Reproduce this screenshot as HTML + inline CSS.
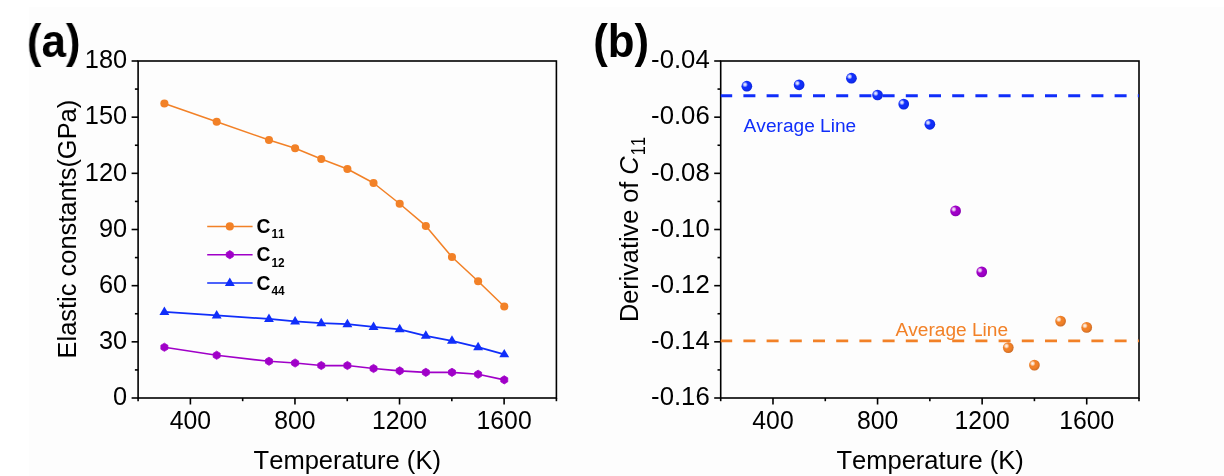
<!DOCTYPE html>
<html><head><meta charset="utf-8"><title>figure</title>
<style>
html,body{margin:0;padding:0;background:#fff;overflow:hidden}
svg{display:block;font-family:"Liberation Sans",sans-serif;will-change:transform;font-kerning:none}
</style></head><body>
<svg width="1224" height="476" viewBox="0 0 1224 476">
<rect x="29" y="7" width="1195" height="469" fill="#FDFDFD"/>
<polyline points="164.39,103.45 216.68,121.75 268.97,140.00 295.11,148.25 321.26,159.00 347.40,169.00 373.54,183.00 399.69,203.75 425.83,225.95 451.97,257.05 478.12,281.25 504.26,306.55" fill="none" stroke="#F28127" stroke-width="1.55" stroke-linejoin="round"/>
<circle cx="164.39" cy="103.45" r="4.05" fill="#F28127"/>
<circle cx="216.68" cy="121.75" r="4.05" fill="#F28127"/>
<circle cx="268.97" cy="140.00" r="4.05" fill="#F28127"/>
<circle cx="295.11" cy="148.25" r="4.05" fill="#F28127"/>
<circle cx="321.26" cy="159.00" r="4.05" fill="#F28127"/>
<circle cx="347.40" cy="169.00" r="4.05" fill="#F28127"/>
<circle cx="373.54" cy="183.00" r="4.05" fill="#F28127"/>
<circle cx="399.69" cy="203.75" r="4.05" fill="#F28127"/>
<circle cx="425.83" cy="225.95" r="4.05" fill="#F28127"/>
<circle cx="451.97" cy="257.05" r="4.05" fill="#F28127"/>
<circle cx="478.12" cy="281.25" r="4.05" fill="#F28127"/>
<circle cx="504.26" cy="306.55" r="4.05" fill="#F28127"/>
<polyline points="164.39,347.25 216.68,355.25 268.97,361.25 295.11,363.00 321.26,365.50 347.40,365.50 373.54,368.50 399.69,370.85 425.83,372.35 451.97,372.35 478.12,374.25 504.26,379.85" fill="none" stroke="#A000C8" stroke-width="1.75" stroke-linejoin="round"/>
<polygon points="164.39,343.15 167.89,345.25 167.89,349.25 164.39,351.35 160.89,349.25 160.89,345.25" fill="#A000C8" stroke="#A000C8" stroke-width="0.8" stroke-linejoin="round"/>
<polygon points="216.68,351.15 220.18,353.25 220.18,357.25 216.68,359.35 213.18,357.25 213.18,353.25" fill="#A000C8" stroke="#A000C8" stroke-width="0.8" stroke-linejoin="round"/>
<polygon points="268.97,357.15 272.47,359.25 272.47,363.25 268.97,365.35 265.47,363.25 265.47,359.25" fill="#A000C8" stroke="#A000C8" stroke-width="0.8" stroke-linejoin="round"/>
<polygon points="295.11,358.90 298.61,361.00 298.61,365.00 295.11,367.10 291.61,365.00 291.61,361.00" fill="#A000C8" stroke="#A000C8" stroke-width="0.8" stroke-linejoin="round"/>
<polygon points="321.26,361.40 324.76,363.50 324.76,367.50 321.26,369.60 317.76,367.50 317.76,363.50" fill="#A000C8" stroke="#A000C8" stroke-width="0.8" stroke-linejoin="round"/>
<polygon points="347.40,361.40 350.90,363.50 350.90,367.50 347.40,369.60 343.90,367.50 343.90,363.50" fill="#A000C8" stroke="#A000C8" stroke-width="0.8" stroke-linejoin="round"/>
<polygon points="373.54,364.40 377.04,366.50 377.04,370.50 373.54,372.60 370.04,370.50 370.04,366.50" fill="#A000C8" stroke="#A000C8" stroke-width="0.8" stroke-linejoin="round"/>
<polygon points="399.69,366.75 403.19,368.85 403.19,372.85 399.69,374.95 396.19,372.85 396.19,368.85" fill="#A000C8" stroke="#A000C8" stroke-width="0.8" stroke-linejoin="round"/>
<polygon points="425.83,368.25 429.33,370.35 429.33,374.35 425.83,376.45 422.33,374.35 422.33,370.35" fill="#A000C8" stroke="#A000C8" stroke-width="0.8" stroke-linejoin="round"/>
<polygon points="451.97,368.25 455.47,370.35 455.47,374.35 451.97,376.45 448.47,374.35 448.47,370.35" fill="#A000C8" stroke="#A000C8" stroke-width="0.8" stroke-linejoin="round"/>
<polygon points="478.12,370.15 481.62,372.25 481.62,376.25 478.12,378.35 474.62,376.25 474.62,372.25" fill="#A000C8" stroke="#A000C8" stroke-width="0.8" stroke-linejoin="round"/>
<polygon points="504.26,375.75 507.76,377.85 507.76,381.85 504.26,383.95 500.76,381.85 500.76,377.85" fill="#A000C8" stroke="#A000C8" stroke-width="0.8" stroke-linejoin="round"/>
<polyline points="164.39,311.95 216.68,315.45 268.97,318.95 295.11,321.45 321.26,323.20 347.40,324.20 373.54,326.95 399.69,329.30 425.83,335.80 451.97,340.80 478.12,347.20 504.26,354.40" fill="none" stroke="#102EFA" stroke-width="1.8" stroke-linejoin="round"/>
<polygon points="164.39,306.45 159.44,314.90 169.34,314.90" fill="#102EFA"/>
<polygon points="216.68,309.95 211.73,318.40 221.63,318.40" fill="#102EFA"/>
<polygon points="268.97,313.45 264.02,321.90 273.92,321.90" fill="#102EFA"/>
<polygon points="295.11,315.95 290.16,324.40 300.06,324.40" fill="#102EFA"/>
<polygon points="321.26,317.70 316.31,326.15 326.21,326.15" fill="#102EFA"/>
<polygon points="347.40,318.70 342.45,327.15 352.35,327.15" fill="#102EFA"/>
<polygon points="373.54,321.45 368.59,329.90 378.49,329.90" fill="#102EFA"/>
<polygon points="399.69,323.80 394.74,332.25 404.64,332.25" fill="#102EFA"/>
<polygon points="425.83,330.30 420.88,338.75 430.78,338.75" fill="#102EFA"/>
<polygon points="451.97,335.30 447.02,343.75 456.92,343.75" fill="#102EFA"/>
<polygon points="478.12,341.70 473.17,350.15 483.07,350.15" fill="#102EFA"/>
<polygon points="504.26,348.90 499.31,357.35 509.21,357.35" fill="#102EFA"/>
<line x1="207.2" y1="226.40" x2="252.6" y2="226.40" stroke="#F28127" stroke-width="1.55"/>
<circle cx="229.80" cy="226.40" r="4.05" fill="#F28127"/>
<text transform="translate(256.6,233.10) scale(0.985,1)" font-size="19.6" font-weight="bold" fill="#000">C<tspan font-size="12" dy="5.3" dx="0.9">11</tspan></text>
<line x1="207.2" y1="254.70" x2="252.6" y2="254.70" stroke="#A000C8" stroke-width="1.55"/>
<polygon points="229.80,250.60 233.30,252.70 233.30,256.70 229.80,258.80 226.30,256.70 226.30,252.70" fill="#A000C8" stroke="#A000C8" stroke-width="0.8" stroke-linejoin="round"/>
<text transform="translate(256.6,261.40) scale(0.985,1)" font-size="19.6" font-weight="bold" fill="#000">C<tspan font-size="12" dy="5.3" dx="0.9">12</tspan></text>
<line x1="207.2" y1="283.00" x2="252.6" y2="283.00" stroke="#102EFA" stroke-width="1.55"/>
<polygon points="229.80,277.50 224.85,285.95 234.75,285.95" fill="#102EFA"/>
<text transform="translate(256.6,289.70) scale(0.985,1)" font-size="19.6" font-weight="bold" fill="#000">C<tspan font-size="12" dy="5.3" dx="0.9">44</tspan></text>
<rect x="138.1" y="61.0" width="418.30" height="337.00" fill="none" stroke="#000" stroke-width="1.6"/>
<rect x="720.7" y="61.0" width="418.30" height="337.00" fill="none" stroke="#000" stroke-width="1.6"/>
<line x1="190.39" y1="398.0" x2="190.39" y2="404.5" stroke="#000" stroke-width="1.6"/>
<text transform="translate(190.39,428.60) scale(0.968,1)" text-anchor="middle" font-size="25.6" fill="#000" font-weight="normal" >400</text>
<line x1="294.96" y1="398.0" x2="294.96" y2="404.5" stroke="#000" stroke-width="1.6"/>
<text transform="translate(294.96,428.60) scale(0.968,1)" text-anchor="middle" font-size="25.6" fill="#000" font-weight="normal" >800</text>
<line x1="399.54" y1="398.0" x2="399.54" y2="404.5" stroke="#000" stroke-width="1.6"/>
<text transform="translate(399.54,428.60) scale(0.968,1)" text-anchor="middle" font-size="25.6" fill="#000" font-weight="normal" >1200</text>
<line x1="504.11" y1="398.0" x2="504.11" y2="404.5" stroke="#000" stroke-width="1.6"/>
<text transform="translate(504.11,428.60) scale(0.968,1)" text-anchor="middle" font-size="25.6" fill="#000" font-weight="normal" >1600</text>
<line x1="138.10" y1="398.0" x2="138.10" y2="401.2" stroke="#000" stroke-width="1.6"/>
<line x1="242.67" y1="398.0" x2="242.67" y2="401.2" stroke="#000" stroke-width="1.6"/>
<line x1="347.25" y1="398.0" x2="347.25" y2="401.2" stroke="#000" stroke-width="1.6"/>
<line x1="451.82" y1="398.0" x2="451.82" y2="401.2" stroke="#000" stroke-width="1.6"/>
<line x1="556.40" y1="398.0" x2="556.40" y2="401.2" stroke="#000" stroke-width="1.6"/>
<line x1="772.99" y1="398.0" x2="772.99" y2="404.5" stroke="#000" stroke-width="1.6"/>
<text transform="translate(772.99,428.60) scale(0.968,1)" text-anchor="middle" font-size="25.6" fill="#000" font-weight="normal" >400</text>
<line x1="877.56" y1="398.0" x2="877.56" y2="404.5" stroke="#000" stroke-width="1.6"/>
<text transform="translate(877.56,428.60) scale(0.968,1)" text-anchor="middle" font-size="25.6" fill="#000" font-weight="normal" >800</text>
<line x1="982.14" y1="398.0" x2="982.14" y2="404.5" stroke="#000" stroke-width="1.6"/>
<text transform="translate(982.14,428.60) scale(0.968,1)" text-anchor="middle" font-size="25.6" fill="#000" font-weight="normal" >1200</text>
<line x1="1086.71" y1="398.0" x2="1086.71" y2="404.5" stroke="#000" stroke-width="1.6"/>
<text transform="translate(1086.71,428.60) scale(0.968,1)" text-anchor="middle" font-size="25.6" fill="#000" font-weight="normal" >1600</text>
<line x1="720.70" y1="398.0" x2="720.70" y2="401.2" stroke="#000" stroke-width="1.6"/>
<line x1="825.28" y1="398.0" x2="825.28" y2="401.2" stroke="#000" stroke-width="1.6"/>
<line x1="929.85" y1="398.0" x2="929.85" y2="401.2" stroke="#000" stroke-width="1.6"/>
<line x1="1034.42" y1="398.0" x2="1034.42" y2="401.2" stroke="#000" stroke-width="1.6"/>
<line x1="1139.00" y1="398.0" x2="1139.00" y2="401.2" stroke="#000" stroke-width="1.6"/>
<line x1="131.6" y1="398.00" x2="138.1" y2="398.00" stroke="#000" stroke-width="1.6"/>
<text transform="translate(127.10,405.25) scale(0.99,1)" text-anchor="end" font-size="25.6" fill="#000" font-weight="normal" >0</text>
<line x1="131.6" y1="341.83" x2="138.1" y2="341.83" stroke="#000" stroke-width="1.6"/>
<text transform="translate(127.10,349.08) scale(0.99,1)" text-anchor="end" font-size="25.6" fill="#000" font-weight="normal" >30</text>
<line x1="131.6" y1="285.67" x2="138.1" y2="285.67" stroke="#000" stroke-width="1.6"/>
<text transform="translate(127.10,292.92) scale(0.99,1)" text-anchor="end" font-size="25.6" fill="#000" font-weight="normal" >60</text>
<line x1="131.6" y1="229.50" x2="138.1" y2="229.50" stroke="#000" stroke-width="1.6"/>
<text transform="translate(127.10,236.75) scale(0.99,1)" text-anchor="end" font-size="25.6" fill="#000" font-weight="normal" >90</text>
<line x1="131.6" y1="173.33" x2="138.1" y2="173.33" stroke="#000" stroke-width="1.6"/>
<text transform="translate(127.10,180.58) scale(0.99,1)" text-anchor="end" font-size="25.6" fill="#000" font-weight="normal" >120</text>
<line x1="131.6" y1="117.17" x2="138.1" y2="117.17" stroke="#000" stroke-width="1.6"/>
<text transform="translate(127.10,124.42) scale(0.99,1)" text-anchor="end" font-size="25.6" fill="#000" font-weight="normal" >150</text>
<line x1="131.6" y1="61.00" x2="138.1" y2="61.00" stroke="#000" stroke-width="1.6"/>
<text transform="translate(127.10,68.25) scale(0.99,1)" text-anchor="end" font-size="25.6" fill="#000" font-weight="normal" >180</text>
<line x1="134.9" y1="369.92" x2="138.1" y2="369.92" stroke="#000" stroke-width="1.6"/>
<line x1="134.9" y1="313.75" x2="138.1" y2="313.75" stroke="#000" stroke-width="1.6"/>
<line x1="134.9" y1="257.58" x2="138.1" y2="257.58" stroke="#000" stroke-width="1.6"/>
<line x1="134.9" y1="201.42" x2="138.1" y2="201.42" stroke="#000" stroke-width="1.6"/>
<line x1="134.9" y1="145.25" x2="138.1" y2="145.25" stroke="#000" stroke-width="1.6"/>
<line x1="134.9" y1="89.08" x2="138.1" y2="89.08" stroke="#000" stroke-width="1.6"/>
<line x1="714.2" y1="61.00" x2="720.7" y2="61.00" stroke="#000" stroke-width="1.6"/>
<text transform="translate(709.70,68.25) scale(1.005,1)" text-anchor="end" font-size="25.6" fill="#000" font-weight="normal" >-0.04</text>
<line x1="714.2" y1="117.17" x2="720.7" y2="117.17" stroke="#000" stroke-width="1.6"/>
<text transform="translate(709.70,124.42) scale(1.005,1)" text-anchor="end" font-size="25.6" fill="#000" font-weight="normal" >-0.06</text>
<line x1="714.2" y1="173.33" x2="720.7" y2="173.33" stroke="#000" stroke-width="1.6"/>
<text transform="translate(709.70,180.58) scale(1.005,1)" text-anchor="end" font-size="25.6" fill="#000" font-weight="normal" >-0.08</text>
<line x1="714.2" y1="229.50" x2="720.7" y2="229.50" stroke="#000" stroke-width="1.6"/>
<text transform="translate(709.70,236.75) scale(1.005,1)" text-anchor="end" font-size="25.6" fill="#000" font-weight="normal" >-0.10</text>
<line x1="714.2" y1="285.67" x2="720.7" y2="285.67" stroke="#000" stroke-width="1.6"/>
<text transform="translate(709.70,292.92) scale(1.005,1)" text-anchor="end" font-size="25.6" fill="#000" font-weight="normal" >-0.12</text>
<line x1="714.2" y1="341.83" x2="720.7" y2="341.83" stroke="#000" stroke-width="1.6"/>
<text transform="translate(709.70,349.08) scale(1.005,1)" text-anchor="end" font-size="25.6" fill="#000" font-weight="normal" >-0.14</text>
<line x1="714.2" y1="398.00" x2="720.7" y2="398.00" stroke="#000" stroke-width="1.6"/>
<text transform="translate(709.70,405.25) scale(1.005,1)" text-anchor="end" font-size="25.6" fill="#000" font-weight="normal" >-0.16</text>
<line x1="717.5" y1="89.08" x2="720.7" y2="89.08" stroke="#000" stroke-width="1.6"/>
<line x1="717.5" y1="145.25" x2="720.7" y2="145.25" stroke="#000" stroke-width="1.6"/>
<line x1="717.5" y1="201.42" x2="720.7" y2="201.42" stroke="#000" stroke-width="1.6"/>
<line x1="717.5" y1="257.58" x2="720.7" y2="257.58" stroke="#000" stroke-width="1.6"/>
<line x1="717.5" y1="313.75" x2="720.7" y2="313.75" stroke="#000" stroke-width="1.6"/>
<line x1="717.5" y1="369.92" x2="720.7" y2="369.92" stroke="#000" stroke-width="1.6"/>
<text transform="translate(347.25,468.70) scale(0.979,1)" text-anchor="middle" font-size="26.1" fill="#000" font-weight="normal" >Temperature (K)</text>
<text transform="translate(930.05,468.70) scale(0.979,1)" text-anchor="middle" font-size="26.1" fill="#000" font-weight="normal" >Temperature (K)</text>
<text transform="translate(76.0,229.1) rotate(-90) scale(0.971,1)" text-anchor="middle" font-size="26.2">Elastic constants(GPa)</text>
<text transform="translate(637.7,322.1) rotate(-90) scale(0.965,1)" text-anchor="start" font-size="26.2">Derivative of <tspan font-style="italic">C</tspan></text>
<text transform="translate(644.8,155.2) rotate(-90) scale(0.84,1)" text-anchor="start" font-size="19.5">11</text>
<text transform="translate(26.9,57) scale(0.945,1)" font-size="46.3" font-weight="bold">(a)</text>
<text transform="translate(593.3,57) scale(0.945,1)" font-size="46.3" font-weight="bold">(b)</text>
<defs>
<radialGradient id="gb" cx="0.33" cy="0.35" r="0.27"><stop offset="0" stop-color="#fff" stop-opacity="0.95"/><stop offset="0.45" stop-color="#fff" stop-opacity="0.7"/><stop offset="1" stop-color="#fff" stop-opacity="0"/></radialGradient>
<radialGradient id="gp" cx="0.33" cy="0.35" r="0.27"><stop offset="0" stop-color="#fff" stop-opacity="0.95"/><stop offset="0.45" stop-color="#fff" stop-opacity="0.7"/><stop offset="1" stop-color="#fff" stop-opacity="0"/></radialGradient>
<radialGradient id="go" cx="0.33" cy="0.35" r="0.27"><stop offset="0" stop-color="#fff" stop-opacity="0.95"/><stop offset="0.45" stop-color="#fff" stop-opacity="0.7"/><stop offset="1" stop-color="#fff" stop-opacity="0"/></radialGradient>
<radialGradient id="rim" cx="0.42" cy="0.42" r="0.6"><stop offset="0.6" stop-color="#000030" stop-opacity="0"/><stop offset="1" stop-color="#000030" stop-opacity="0.16"/></radialGradient>
<clipPath id="cb"><rect x="720.7" y="61.0" width="418.30" height="337.00"/></clipPath>
</defs>
<line x1="720.2" y1="95.75" x2="1140" y2="95.75" stroke="#102EFA" stroke-width="2.8" stroke-dasharray="12 11.2" clip-path="url(#cb)"/>
<line x1="720.2" y1="340.8" x2="1140" y2="340.8" stroke="#F28127" stroke-width="2.8" stroke-dasharray="12 11.2" clip-path="url(#cb)"/>
<text transform="translate(743.60,132.30) scale(1.006,1)" text-anchor="start" font-size="19.0" fill="#102EFA" font-weight="normal" >Average Line</text>
<text transform="translate(895.50,336.35) scale(1.006,1)" text-anchor="start" font-size="19.0" fill="#F28127" font-weight="normal" >Average Line</text>
<circle cx="746.84" cy="86.20" r="5.35" fill="#102EFA"/>
<circle cx="746.84" cy="86.20" r="5.35" fill="url(#gb)"/>
<circle cx="746.84" cy="86.20" r="5.35" fill="url(#rim)"/>
<circle cx="799.13" cy="84.80" r="5.35" fill="#102EFA"/>
<circle cx="799.13" cy="84.80" r="5.35" fill="url(#gb)"/>
<circle cx="799.13" cy="84.80" r="5.35" fill="url(#rim)"/>
<circle cx="851.42" cy="78.20" r="5.35" fill="#102EFA"/>
<circle cx="851.42" cy="78.20" r="5.35" fill="url(#gb)"/>
<circle cx="851.42" cy="78.20" r="5.35" fill="url(#rim)"/>
<circle cx="877.56" cy="95.00" r="5.35" fill="#102EFA"/>
<circle cx="877.56" cy="95.00" r="5.35" fill="url(#gb)"/>
<circle cx="877.56" cy="95.00" r="5.35" fill="url(#rim)"/>
<circle cx="903.71" cy="104.10" r="5.35" fill="#102EFA"/>
<circle cx="903.71" cy="104.10" r="5.35" fill="url(#gb)"/>
<circle cx="903.71" cy="104.10" r="5.35" fill="url(#rim)"/>
<circle cx="929.85" cy="124.30" r="5.35" fill="#102EFA"/>
<circle cx="929.85" cy="124.30" r="5.35" fill="url(#gb)"/>
<circle cx="929.85" cy="124.30" r="5.35" fill="url(#rim)"/>
<circle cx="955.59" cy="210.90" r="5.35" fill="#A000C8"/>
<circle cx="955.59" cy="210.90" r="5.35" fill="url(#gp)"/>
<circle cx="955.59" cy="210.90" r="5.35" fill="url(#rim)"/>
<circle cx="981.74" cy="271.90" r="5.35" fill="#A000C8"/>
<circle cx="981.74" cy="271.90" r="5.35" fill="url(#gp)"/>
<circle cx="981.74" cy="271.90" r="5.35" fill="url(#rim)"/>
<circle cx="1008.28" cy="347.60" r="5.35" fill="#F28127"/>
<circle cx="1008.28" cy="347.60" r="5.35" fill="url(#go)"/>
<circle cx="1008.28" cy="347.60" r="5.35" fill="url(#rim)"/>
<circle cx="1034.42" cy="365.10" r="5.35" fill="#F28127"/>
<circle cx="1034.42" cy="365.10" r="5.35" fill="url(#go)"/>
<circle cx="1034.42" cy="365.10" r="5.35" fill="url(#rim)"/>
<circle cx="1060.57" cy="321.10" r="5.35" fill="#F28127"/>
<circle cx="1060.57" cy="321.10" r="5.35" fill="url(#go)"/>
<circle cx="1060.57" cy="321.10" r="5.35" fill="url(#rim)"/>
<circle cx="1086.71" cy="327.40" r="5.35" fill="#F28127"/>
<circle cx="1086.71" cy="327.40" r="5.35" fill="url(#go)"/>
<circle cx="1086.71" cy="327.40" r="5.35" fill="url(#rim)"/>
</svg>
</body></html>
